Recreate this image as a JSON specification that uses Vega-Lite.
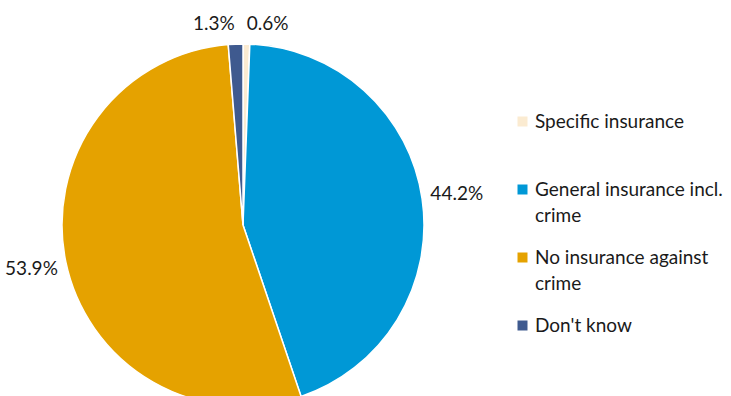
{
  "$schema": "https://vega.github.io/schema/vega-lite/v6.json",
  "width": 486,
  "height": 446,
  "autosize": {"type": "pad"},
  "padding": 0,
  "background": "white",
  "config": {"view": {"stroke": null}, "font": "Lato", "style": {"guide-label": {"lineHeight": 26}}},
  "data": {
    "values": [
      {"category": "Specific insurance", "share": 0.006, "order": 1},
      {"category": "General insurance incl. crime", "share": 0.442, "order": 2},
      {"category": "No insurance against crime", "share": 0.539, "order": 3},
      {"category": "Don't know", "share": 0.013, "order": 4}
    ]
  },
  "encoding": {
    "theta": {"field": "share", "type": "quantitative", "stack": true},
    "order": {"field": "order", "type": "quantitative"}
  },
  "layer": [
    {
      "mark": {"type": "arc", "outerRadius": 181, "stroke": "white", "strokeWidth": 1.5},
      "encoding": {
        "color": {
          "field": "category",
          "type": "nominal",
          "sort": ["Specific insurance", "General insurance incl. crime", "No insurance against crime", "Don't know"],
          "scale": {
            "domain": ["Specific insurance", "General insurance incl. crime", "No insurance against crime", "Don't know"],
            "range": ["#FBEBD1", "#0098D6", "#E5A200", "#3F5A8F"]
          },
          "legend": {
            "title": null,
            "orient": "none",
            "legendX": 513,
            "legendY": 110,
            "padding": 0,
            "symbolType": "square",
            "symbolSize": 100,
            "symbolStrokeWidth": 0,
            "labelFont": "Lato",
            "labelFontSize": 19,
            "labelColor": "#1a1a1a",
            "labelOffset": 3,
            "labelLimit": 300,
            "rowPadding": 22,
            "labelExpr": "datum.label == 'General insurance incl. crime' ? ['General insurance incl.', 'crime'] : datum.label == 'No insurance against crime' ? ['No insurance against', 'crime'] : [datum.label, ' ']"
          }
        }
      }
    },
    {
      "mark": {"type": "text", "radius": 216, "fontSize": 19, "font": "Lato", "color": "#1a1a1a"},
      "encoding": {
        "text": {
          "condition": {"test": "datum.share > 0.1", "field": "share", "type": "quantitative", "format": ".1%"},
          "value": ""
        }
      }
    },
    {
      "mark": {"type": "text", "radius": 201, "fontSize": 19, "font": "Lato", "color": "#1a1a1a", "align": "left"},
      "encoding": {
        "text": {
          "condition": {"test": "datum.category == 'Specific insurance'", "field": "share", "type": "quantitative", "format": ".1%"},
          "value": ""
        }
      }
    },
    {
      "mark": {"type": "text", "radius": 201, "fontSize": 19, "font": "Lato", "color": "#1a1a1a", "align": "right"},
      "encoding": {
        "text": {
          "condition": {"test": "datum.category == \"Don't know\"", "field": "share", "type": "quantitative", "format": ".1%"},
          "value": ""
        }
      }
    }
  ]
}
